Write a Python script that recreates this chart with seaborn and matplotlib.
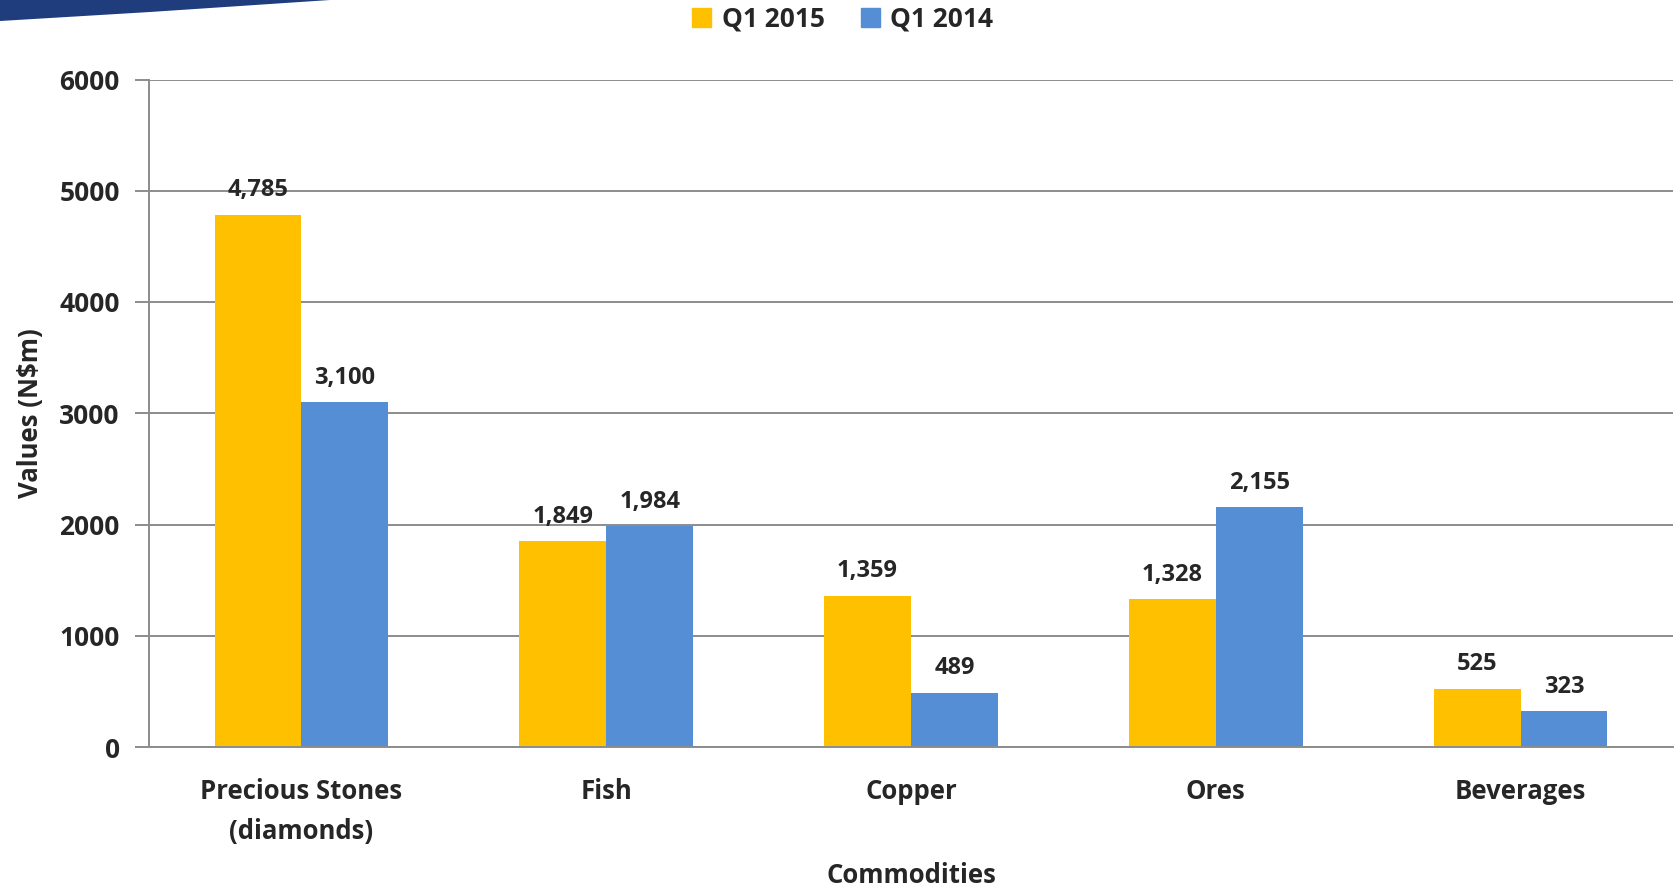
import matplotlib
matplotlib.use("Agg")
import matplotlib.pyplot as plt
import matplotlib.patches as mpatches
import pandas as pd
import seaborn as sns

# values (N$ millions)
commodities = ["Precious Stones\n(diamonds)", "Fish", "Copper", "Ores", "Beverages"]
q1_2015 = [4785, 1849, 1359, 1328, 525]
q1_2014 = [3100, 1984, 489, 2155, 323]
series_names = ["Q1 2015", "Q1 2014"]
colors = ["#FFC000", "#558ED5"]

df = pd.DataFrame({
    "Commodities": commodities * 2,
    "Values": q1_2015 + q1_2014,
    "Period": [series_names[0]] * len(commodities) + [series_names[1]] * len(commodities),
})

sns.set_style("white")
plt.rcParams["font.family"] = ["Open Sans", "DejaVu Sans"]
plt.rcParams["font.weight"] = "bold"

W, H = 1677, 890
fig = plt.figure(figsize=(W / 100, H / 100), dpi=100)
ax = fig.add_axes([149 / W, 1 - 747 / H, (1673 - 149) / W, (747 - 79.5) / H])

sns.barplot(data=df, x="Commodities", y="Values", hue="Period", hue_order=series_names,
            palette=colors, width=0.57, saturation=1, linewidth=0, ax=ax, legend=False)

for c in ax.containers:
    ax.bar_label(c, labels=[f"{v:,.0f}" for v in c.datavalues], padding=9,
                 fontsize=17, fontweight="bold")

ax.set_ylim(0, 6000)
ax.set_yticks(range(0, 6001, 1000))
ax.set_xlim(-0.5, 4.5)
ax.yaxis.grid(True, color="#8C8C8C", linewidth=1.4)
ax.set_axisbelow(True)

for side in ["top", "right"]:
    ax.spines[side].set_visible(False)
for side in ["left", "bottom"]:
    ax.spines[side].set_color("#8C8C8C")
    ax.spines[side].set_linewidth(1.4)

ax.tick_params(axis="y", left=True, length=10, width=1.4, color="#8C8C8C",
               labelsize=19, pad=11)
ax.tick_params(axis="x", bottom=False, labelsize=18.5, pad=19)
for lbl in ax.get_xticklabels() + ax.get_yticklabels():
    lbl.set_fontweight("bold")
for lbl in ax.get_xticklabels():
    lbl.set_linespacing(1.6)

ax.set_ylabel("Values (N$m)", fontsize=18.5, fontweight="bold", labelpad=11)
ax.set_xlabel("Commodities", fontsize=18.5, fontweight="bold", labelpad=12)

handles = [mpatches.Patch(color=col, label=name) for col, name in zip(colors, series_names)]
fig.legend(handles=handles, loc="center", bbox_to_anchor=(843 / W, 1 - 19 / H), ncol=2,
           frameon=False, handlelength=0.7, handleheight=0.7,
           handletextpad=0.4, columnspacing=1.4, prop={"weight": "bold", "size": 19})

# decorative swoosh in the top-left corner
swoosh = mpatches.Polygon([(0, 1), (330 / W, 1), (150 / W, 1 - 12 / H), (0, 1 - 21 / H)],
                          closed=True, transform=fig.transFigure, color="#1F3C7C", lw=0)
fig.patches.append(swoosh)

fig.savefig("out.png", dpi=100)
